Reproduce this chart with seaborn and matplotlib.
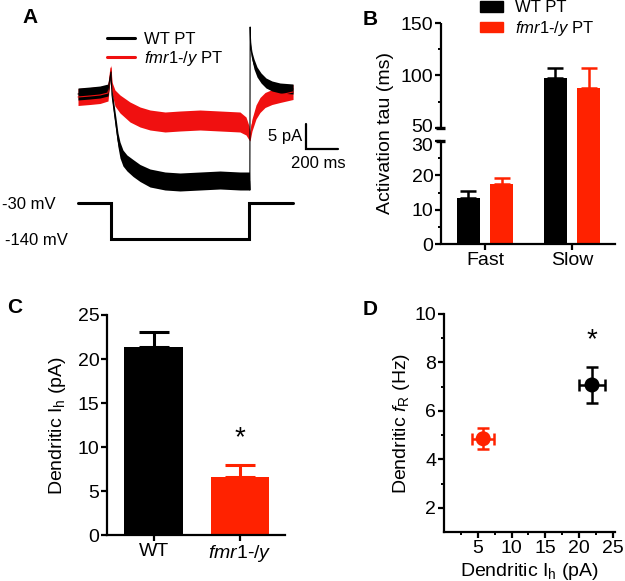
import numpy as np
import pandas as pd
import matplotlib
matplotlib.use("Agg")
import matplotlib.pyplot as plt
import matplotlib.transforms as mtransforms
from matplotlib.lines import Line2D
from matplotlib.patches import Patch
from matplotlib.ticker import FixedLocator
from matplotlib.mathtext import MathTextParser
import seaborn as sns

sns.set_theme(style="ticks")
plt.rcParams["font.family"] = ["Liberation Sans", "DejaVu Sans"]
plt.rcParams["mathtext.fontset"] = "custom"
plt.rcParams["mathtext.rm"] = "Liberation Sans"
plt.rcParams["mathtext.it"] = "Liberation Sans:italic"
plt.rcParams["mathtext.bf"] = "Liberation Sans:bold"
plt.rcParams["axes.linewidth"] = 1.6
plt.rcParams["xtick.major.width"] = 1.6
plt.rcParams["ytick.major.width"] = 1.6
plt.rcParams["ytick.minor.width"] = 1.4
plt.rcParams["xtick.minor.width"] = 1.4
plt.rcParams["xtick.color"] = "black"
plt.rcParams["ytick.color"] = "black"
plt.rcParams["axes.edgecolor"] = "black"
plt.rcParams["text.color"] = "black"
plt.rcParams["axes.labelcolor"] = "black"

BLACK = "#000000"
RED = "#FF2200"
TRACE_RED = "#F01010"

# italic genotype name with a real hyphen when mathtext allows \text
try:
    MathTextParser("path").parse(r"$\mathit{a}\text{-}\mathit{b}$")
    FMR = r"$\mathit{fmr1}\text{-}\mathit{/y}$"
except Exception:
    FMR = r"$\mathit{fmr1{-}/y}$"

# %%
# A: current traces (ms, pA relative to baseline) and noise half-width
wt_t = [0, 75, 137.5, 187.5, 206, 212.5, 225, 237.5, 250, 262.5, 281, 306, 344,
        387.5, 450, 544, 637.5, 762.5, 887.5, 1012.5, 1072, 1074, 1076, 1079,
        1087.5, 1100, 1119, 1144, 1175, 1212.5, 1262.5, 1344]
wt_i = [0, 0.2, 0.4, 0.8, 4.4, -0.2, -3.2, -6.2, -9.2, -11.2, -12.8, -13.8, -14.8,
        -15.8, -16.8, -17.4, -17.6, -17.4, -17.2, -17.4, -17.4, -19.2, 13.4, 9.8,
        7.6, 6.0, 4.4, 3.2, 2.2, 1.6, 1.2, 1.0]
wt_n = [1.2, 1.2, 1.2, 1.2, 0.6, 1.0, 1.2, 1.4, 1.4, 1.6, 1.6, 1.6, 1.7,
        1.7, 1.8, 1.8, 1.8, 1.8, 1.8, 1.8, 1.8, 0, 0, 0.6,
        0.8, 1.0, 1.0, 1.0, 1.0, 1.0, 1.0, 1.0]

ko_t = [0, 75, 137.5, 187.5, 206, 212.5, 231, 262.5, 325, 387.5, 450, 544,
        637.5, 762.5, 887.5, 1012.5, 1050, 1069, 1075, 1087.5, 1112.5, 1137.5,
        1169, 1212.5, 1262.5, 1344]
ko_i = [-0.6, -0.4, -0.2, 0.2, 5.2, 1.2, -0.8, -2.0, -3.6, -4.6, -5.2, -5.6,
        -5.4, -5.2, -5.4, -5.6, -6.4, -7.8, -8.6, -6.2, -3.6, -2.2,
        -1.2, -0.6, -0.2, 0.4]
ko_n = [1.7, 1.7, 1.7, 1.6, 0.6, 1.2, 1.6, 1.8, 2.0, 2.0, 2.0, 2.0,
        2.0, 2.0, 2.0, 2.0, 1.8, 1.4, 0.8, 1.2, 1.4, 1.5,
        1.5, 1.5, 1.5, 1.5]

# command voltage
v_t = [0, 208, 208, 1066, 1066, 1344]
v_mv = [-30, -30, -140, -140, -30, -30]
v_levels = ["-30 mV", "-140 mV"]

# scale bar
SB_PA = 5
SB_MS = 200

# B: activation tau
b_phase = ["Fast", "Fast", "Slow", "Slow"]
b_geno = ["WT PT", "fmr1", "WT PT", "fmr1"]
b_tau = np.array([13.5, 17.6, 97.2, 88.5])
b_sem = np.array([1.9, 1.5, 10.3, 19.0])
b_colors = [BLACK, RED, BLACK, RED]

# C: dendritic Ih
c_groups = ["WT", "fmr1"]
c_labels = ["WT", FMR]
c_ih = np.array([21.4, 6.6])
c_sem = np.array([1.7, 1.4])
c_colors = [BLACK, RED]

# D: fR vs Ih
d_geno = ["WT", "fmr1"]
d_ih = np.array([21.9, 5.8])
d_ih_sem = np.array([1.9, 1.6])
d_fr = np.array([7.07, 4.85])
d_fr_sem = np.array([0.76, 0.43])
d_colors = [BLACK, RED]

W, H = 625, 581
fig = plt.figure(figsize=(W / 100, H / 100), dpi=100)


def axes_px(l, t, r, b):
    return fig.add_axes([l / W, 1 - b / H, (r - l) / W, (b - t) / H])


def ftext(x, y, s, **kw):
    fig.text(x / W, 1 - y / H, s, **kw)


# %%
# Panel A
ax_a = axes_px(60, 20, 360, 200)
ax_a.fill_between(ko_t, np.array(ko_i) - ko_n, np.array(ko_i) + ko_n,
                  color=TRACE_RED, lw=0)
ax_a.plot(ko_t, ko_i, color=TRACE_RED, lw=0.8)
ax_a.fill_between(wt_t, np.array(wt_i) - wt_n, np.array(wt_i) + wt_n,
                  color=BLACK, lw=0)
ax_a.plot(wt_t, wt_i, color=BLACK, lw=0.8)
ax_a.set_xlim(-112.5, 1762.5)
ax_a.set_ylim(-21.2, 14.8)
ax_a.axis("off")

sb_x, sb_y = 1425, -11
ax_a.plot([sb_x, sb_x, sb_x + SB_MS], [sb_y + SB_PA, sb_y, sb_y],
          color=BLACK, lw=1.6, solid_joinstyle="miter")
ax_a.text(sb_x - 25, sb_y + SB_PA / 2, f"{SB_PA} pA", ha="right", va="center",
          fontsize=12)
ax_a.text(sb_x + SB_MS / 2 - 25, sb_y - 1.3, f"{SB_MS} ms", ha="center", va="top",
          fontsize=12)

ax_a.legend(handles=[Line2D([], [], color=BLACK, lw=2.2),
                     Line2D([], [], color=TRACE_RED, lw=2.2)],
            labels=["WT PT", FMR + " PT"], loc="upper left",
            bbox_to_anchor=(107 / W, 1 - 32 / H), bbox_transform=fig.transFigure,
            frameon=False, fontsize=12, handlelength=1.7, handletextpad=0.5,
            labelspacing=0.1, borderpad=0, borderaxespad=0)

ax_v = axes_px(60, 190, 360, 250)
ax_v.plot(v_t, v_mv, color=BLACK, lw=2.2, solid_joinstyle="miter")
ax_v.set_xlim(-112.5, 1762.5)
ax_v.set_ylim(-173.6, 9.7)
ax_v.axis("off")
ftext(2, 209, v_levels[0], fontsize=12, va="baseline")
ftext(5, 245, v_levels[1], fontsize=12, va="baseline")


# %%
# Panel B: broken y axis via piecewise scale
def fwd(v):
    v = np.asarray(v, dtype=float)
    return np.where(v <= 30, v * 103 / 30,
                    np.where(v <= 50, 103 + (v - 30) * 13 / 20,
                             116 + (v - 50) * 105 / 100))


def inv(u):
    u = np.asarray(u, dtype=float)
    return np.where(u <= 103, u * 30 / 103,
                    np.where(u <= 116, 30 + (u - 103) * 20 / 13,
                             50 + (u - 116) * 100 / 105))


ax_b = axes_px(441, 23, 615, 244)
ax_b.set_yscale("function", functions=(fwd, inv))
df_b = pd.DataFrame({"phase": b_phase, "geno": b_geno, "tau": b_tau})
sns.barplot(data=df_b, x="phase", y="tau", hue="geno", hue_order=["WT PT", "fmr1"],
            palette=[BLACK, RED], saturation=1, width=0.76, gap=0.31,
            errorbar=None, legend=False, linewidth=0, ax=ax_b)
for bar in ax_b.patches:
    h = bar.get_height()
    k = int(np.argmin(np.abs(b_tau - h)))
    ax_b.errorbar(bar.get_x() + bar.get_width() / 2, h, yerr=[[0], [b_sem[k]]],
                  fmt="none", ecolor=b_colors[k], elinewidth=1.8, capsize=5.8,
                  capthick=1.8)
ax_b.set_ylim(0, 150)
ax_b.set_xlim(-0.506, 1.494)
ax_b.yaxis.set_major_locator(FixedLocator([0, 10, 20, 30, 50, 100, 150]))
ax_b.yaxis.set_minor_locator(FixedLocator([5, 15, 25, 75, 125]))
ax_b.spines[["top", "right", "left"]].set_visible(False)
blend = mtransforms.blended_transform_factory(ax_b.transAxes, ax_b.transData)
for lo, hi in [(0, 30), (50, 150)]:
    ax_b.plot([0, 0], [lo, hi], transform=blend, color=BLACK, lw=1.6,
              clip_on=False, solid_capstyle="butt")
for yb in [30, 50]:
    ax_b.plot([-0.03, 0.025], [yb, yb], transform=blend, color=BLACK, lw=2.4,
              clip_on=False, solid_capstyle="butt")
ax_b.tick_params(axis="both", which="major", length=4, labelsize=14, pad=1.5)
ax_b.tick_params(axis="y", which="minor", length=2.5)
# nudge the two labels at the axis break apart
fig.canvas.draw()
for lab in ax_b.get_yticklabels():
    txt = lab.get_text()
    if txt in ("50", "30"):
        dy = 2.5 if txt == "50" else -3.5
        lab.set_transform(lab.get_transform() +
                          mtransforms.ScaledTranslation(0, dy / 100, fig.dpi_scale_trans))
ax_b.set_xlabel("")
ax_b.set_ylabel("Activation tau (ms)", fontsize=14, labelpad=5)
ax_b.legend(handles=[Patch(color=BLACK), Patch(color=RED)],
            labels=["WT PT", FMR + " PT"], loc="upper left",
            bbox_to_anchor=(480 / W, 1 - 0.5 / H), bbox_transform=fig.transFigure,
            frameon=False, fontsize=12, handlelength=1.38, handleheight=0.6,
            handletextpad=0.72, labelspacing=0.2, borderpad=0, borderaxespad=0)

# %%
# Panel C
ax_c = axes_px(107, 315, 285, 535)
sns.barplot(x=c_groups, y=c_ih, hue=c_groups, palette=c_colors, saturation=1,
            width=0.68, errorbar=None, legend=False, linewidth=0, ax=ax_c)
for bar in ax_c.patches:
    h = bar.get_height()
    k = int(np.argmin(np.abs(c_ih - h)))
    ax_c.errorbar(bar.get_x() + bar.get_width() / 2, h, yerr=[[0], [c_sem[k]]],
                  fmt="none", ecolor=c_colors[k], elinewidth=2.2, capsize=10.8,
                  capthick=2.2)
ax_c.set_ylim(0, 25)
ax_c.set_xlim(-0.54, 1.52)
ax_c.set_yticks([0, 5, 10, 15, 20, 25])
ax_c.set_xticks([0, 1])
ax_c.set_xticklabels(c_labels)
ax_c.spines[["top", "right"]].set_visible(False)
ax_c.tick_params(axis="both", length=4, labelsize=14, pad=1.5)
ax_c.set_ylabel(r"Dendritic I$_\mathrm{h}$ (pA)", fontsize=14, labelpad=7)
ax_c.text(1, c_ih[1] + c_sem[1] + 3.0, "*", ha="center", va="center", fontsize=20)

# %%
# Panel D
ax_d = axes_px(444, 314, 615, 532)
for k in range(len(d_geno)):
    ax_d.errorbar(d_ih[k], d_fr[k], xerr=d_ih_sem[k], yerr=d_fr_sem[k], fmt="none",
                  ecolor=d_colors[k], elinewidth=1.8, capsize=4.5, capthick=1.8)
sns.scatterplot(x=d_ih, y=d_fr, hue=d_geno, palette=d_colors, s=117,
                edgecolor="none", legend=False, zorder=3, ax=ax_d)
ax_d.set_xlim(0, 25.3)
ax_d.set_ylim(1, 10)
ax_d.xaxis.set_major_locator(FixedLocator([5, 10, 15, 20, 25]))
ax_d.xaxis.set_minor_locator(FixedLocator([2.5, 7.5, 12.5, 17.5, 22.5]))
ax_d.yaxis.set_major_locator(FixedLocator([2, 4, 6, 8, 10]))
ax_d.yaxis.set_minor_locator(FixedLocator([3, 5, 7, 9]))
ax_d.spines[["top", "right"]].set_visible(False)
ax_d.tick_params(axis="both", which="major", length=4, labelsize=14, pad=1.5)
ax_d.tick_params(axis="both", which="minor", length=2.5)
ax_d.set_ylabel(r"Dendritic $\mathit{f}_\mathrm{R}$ (Hz)", fontsize=14, labelpad=2)
ax_d.set_xlabel(r"Dendritic I$_\mathrm{h}$ (pA)", fontsize=14, labelpad=3)
ax_d.text(d_ih[0], d_fr[0] + d_fr_sem[0] + 1.1, "*", ha="center", va="center",
          fontsize=20)

# panel letters
for letter, x, y in [("A", 22, 23), ("B", 363, 25), ("C", 7, 313), ("D", 363, 315)]:
    ftext(x, y, letter, fontsize=15, fontweight="bold", va="baseline")

fig.savefig("out.png", dpi=100)
